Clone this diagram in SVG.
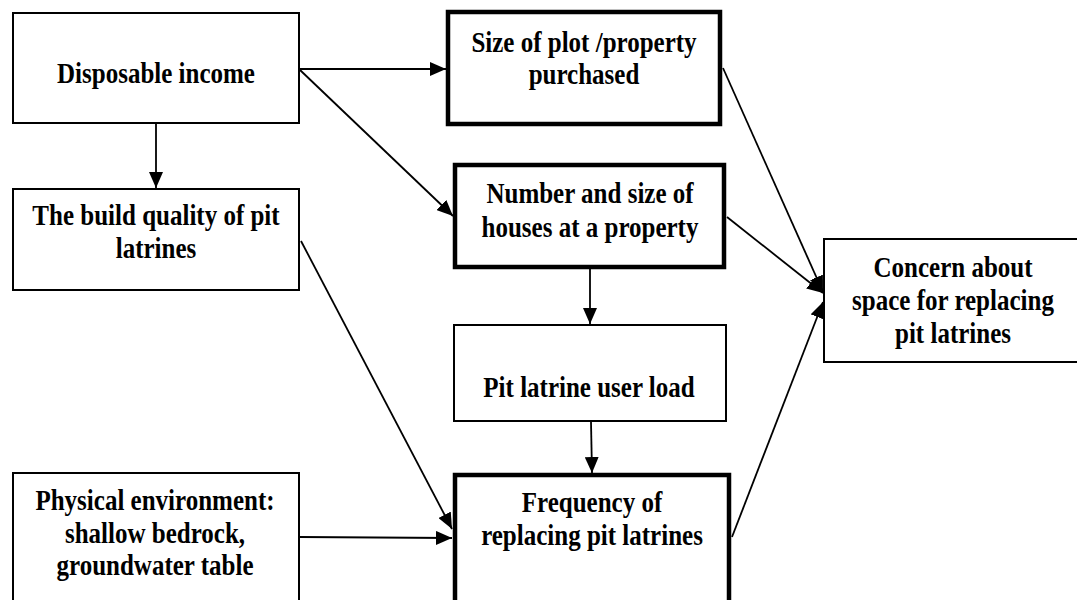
<svg xmlns="http://www.w3.org/2000/svg" width="1077" height="600" viewBox="0 0 1077 600">
<style>
.box{fill:#fff;stroke:#000;stroke-width:2}
.thick{fill:#fff;stroke:#000;stroke-width:4.5}
.t{font-family:"Liberation Serif","Times New Roman",serif;font-weight:bold;font-size:25px;fill:#000;text-anchor:middle}
.c{stroke:#000;stroke-width:1.8;fill:none;marker-end:url(#ah)}
</style>
<defs>
<marker id="ah" markerUnits="userSpaceOnUse" markerWidth="16" markerHeight="14" refX="16" refY="7" orient="auto">
<path d="M0,0 L16,7 L0,14 Z" fill="#000"/>
</marker>
</defs>
<rect width="1077" height="600" fill="#fff"/>
<g id="connectors">
<line class="c" x1="299" y1="69" x2="446" y2="69"/>
<line class="c" x1="300" y1="70" x2="453" y2="216"/>
<line class="c" x1="156" y1="123" x2="156" y2="188"/>
<line class="c" x1="301" y1="241" x2="452" y2="529"/>
<line class="c" x1="299" y1="537" x2="452" y2="538"/>
<line class="c" x1="723" y1="68" x2="823" y2="292"/>
<line class="c" x1="727" y1="217" x2="823" y2="293"/>
<line class="c" x1="732" y1="537" x2="823" y2="302"/>
<line class="c" x1="590" y1="269" x2="590" y2="324"/>
<line class="c" x1="591" y1="422" x2="592" y2="473"/>
</g>
<g id="n-income">
<rect class="box" x="13" y="13" width="286" height="110"/>
<text class="t" transform="translate(156,83) scale(1,1.15)">Disposable income</text>
</g>
<g id="n-build">
<rect class="box" x="13" y="189" width="286" height="101"/>
<text class="t" transform="translate(156,225) scale(1,1.15)">The build quality of pit</text>
<text class="t" transform="translate(156,258) scale(1,1.15)">latrines</text>
</g>
<g id="n-physical">
<rect class="box" x="13" y="473" width="286" height="140"/>
<text class="t" transform="translate(155,510) scale(1,1.15)">Physical environment:</text>
<text class="t" transform="translate(155,543) scale(1,1.15)">shallow bedrock,</text>
<text class="t" transform="translate(155,575) scale(1,1.15)">groundwater table</text>
</g>
<g id="n-plot">
<rect class="thick" x="448" y="12" width="272" height="112"/>
<text class="t" transform="translate(584,52) scale(1,1.15)">Size of plot /property</text>
<text class="t" transform="translate(584,84) scale(1,1.15)">purchased</text>
</g>
<g id="n-houses">
<rect class="thick" x="455" y="165" width="269" height="102"/>
<text class="t" transform="translate(590,203) scale(1,1.15)">Number and size of</text>
<text class="t" transform="translate(590,237) scale(1,1.15)">houses at a property</text>
</g>
<g id="n-load">
<rect class="box" x="454" y="325" width="272" height="96"/>
<text class="t" transform="translate(589,397) scale(1,1.15)">Pit latrine user load</text>
</g>
<g id="n-frequency">
<rect class="thick" x="455" y="475" width="274" height="140"/>
<text class="t" transform="translate(592,512) scale(1,1.15)">Frequency of</text>
<text class="t" transform="translate(592,545) scale(1,1.15)">replacing pit latrines</text>
</g>
<g id="n-concern">
<rect class="box" x="824" y="239" width="262" height="123"/>
<text class="t" transform="translate(953,277) scale(1,1.15)">Concern about</text>
<text class="t" transform="translate(953,310) scale(1,1.15)">space for replacing</text>
<text class="t" transform="translate(953,343) scale(1,1.15)">pit latrines</text>
</g>
</svg>
